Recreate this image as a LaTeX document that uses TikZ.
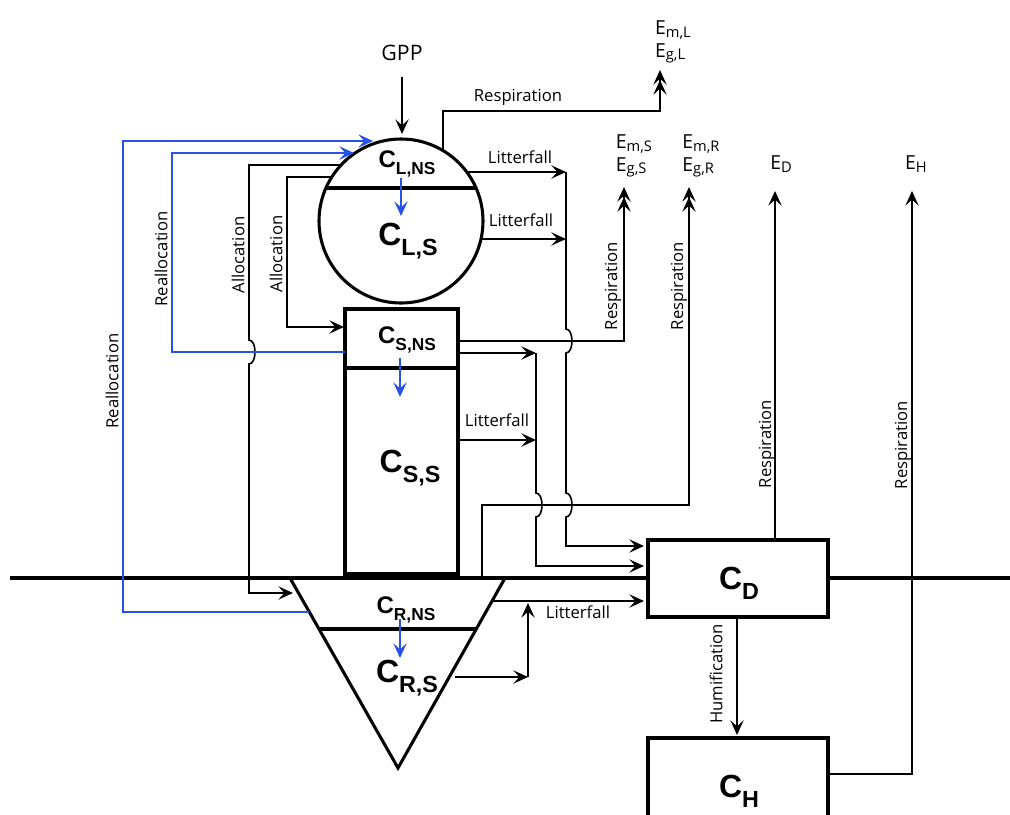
\documentclass[tikz,border=0pt]{standalone}
\usepackage{fontspec}
\setmainfont{Open Sans}
\newfontfamily\poolfont{Liberation Sans}
\usetikzlibrary{arrows.meta, calc}
\definecolor{reallocblue}{RGB}{38,82,232}

\newcommand{\Cbig}[1]{{\poolfont\bfseries\fontsize{24}{26}\selectfont C\raisebox{-0.32em}{\fontsize{17.5}{19}\selectfont #1}}}
\newcommand{\Csmall}[1]{{\poolfont\bfseries\fontsize{18}{20}\selectfont C\raisebox{-0.32em}{\fontsize{13}{14}\selectfont #1}}}
\newcommand{\Eout}[1]{E\raisebox{-0.15em}{\fontsize{11}{12}\selectfont #1}}

\begin{document}
\begin{tikzpicture}[
        x=0.75pt, y=-0.75pt,
        >={Stealth[length=11pt,width=10pt,inset=4.5pt]},
        font=\fontsize{12.5}{14}\selectfont,
        flow/.style={line width=1.2pt},
        thinflow/.style={line width=1pt},
        realloc/.style={line width=1.1pt, draw=reallocblue},
        pool/.style={line width=2.3pt},
        twotip/.style={-{Stealth[length=11pt,width=10pt,inset=4.5pt,sep=-3.5pt]Stealth[length=11pt,width=10pt,inset=4.5pt]}},
        hopover/.style={to path={.. controls ($(\tikztostart)+(8,0)$) and ($(\tikztotarget)+(8,0)$) .. (\tikztotarget)}},
        lbl/.style={inner sep=0pt},
        vlbl/.style={inner sep=0pt, rotate=90},
        elbl/.style={inner sep=0pt, align=left, font=\fontsize{14.5}{17}\selectfont}
    ]
    \useasboundingbox (0,0) rectangle (1010,814);

    % --- Ground ---
    \draw[line width=3.2pt] (10,578) -- (648,578);
    \draw[line width=3.2pt] (828,578) -- (1010,578);

    % --- Pools ---
    \draw[pool] (401,221) circle[radius=82];
    \draw[pool] (326,188) -- (476,188);
    \draw[pool] (345,309) rectangle (458,574);
    \draw[pool] (345,368) -- (458,368);
    \draw[pool] (290,578) -- (505,578) -- (398,768) -- cycle;
    \draw[pool] (319,629) -- (476,629);
    \draw[pool, fill=white] (648,540) rectangle (828,617);
    \draw[pool] (648,816) -- (648,738) -- (828,738) -- (828,816);

    \node[lbl, anchor=base] (clns) at (407,167) {\Csmall{L,NS}};
    \node[lbl, anchor=base] (cls)  at (408,245) {\Cbig{L,S}};
    \node[lbl, anchor=base] (csns) at (407,343) {\Csmall{S,NS}};
    \node[lbl, anchor=base] (css)  at (410,472) {\Cbig{S,S}};
    \node[lbl, anchor=base] (crns) at (406,613) {\Csmall{R,NS}};
    \node[lbl, anchor=base] (crs)  at (407,682) {\Cbig{R,S}};
    \node[lbl, anchor=base] (cd)   at (739,589) {\Cbig{D}};
    \node[lbl, anchor=base] (ch)   at (739,797) {\Cbig{H}};

    % --- Outputs ---
    \node[lbl, font=\fontsize{16}{18}\selectfont] (gpp) at (402,53) {GPP};
    \node[elbl] (eleaf) at (673,42) {\Eout{m,L}\\\Eout{g,L}};
    \node[elbl] (estem) at (634,156) {\Eout{m,S}\\\Eout{g,S}};
    \node[elbl] (eroot) at (701,156) {\Eout{m,R}\\\Eout{g,R}};
    \node[elbl] (edebris) at (781,164) {\Eout{D}};
    \node[elbl] (ehumus) at (916,164) {\Eout{H}};

    \coordinate (gppA) at (402,77);
    \coordinate (gppB) at (402,134);
    \coordinate (eleafT) at (660,70);
    \coordinate (estemT) at (624,187);
    \coordinate (erootT) at (689,187);
    \coordinate (edebrisT) at (775,191);
    \coordinate (ehumusT) at (912,191);

    % --- GPP and internal transfers ---
    \draw[flow, ->] (gppA) -- (gppB);
    \draw[realloc, ->] (401,178) -- (401,216);
    \draw[realloc, ->] (400,358) -- (400,397);
    \draw[realloc, ->] (400,619) -- (400,658);

    % --- Respiration ---
    \draw[flow, twotip] (443,151) -- (443,111) -- (660,111) -- (eleafT);
    \node[lbl] at (518,97) {Respiration};
    \draw[flow, twotip] (458,341) -- (624,341) -- (estemT);
    \node[vlbl] at (613,286) {Respiration};
    \draw[thinflow, twotip] (482,576) -- (482,505) -- (689,505) -- (erootT);
    \node[vlbl] at (679,286) {Respiration};
    \draw[thinflow, ->] (775,540) -- (edebrisT);
    \node[vlbl] at (767,444) {Respiration};
    \draw[thinflow, ->] (828,774) -- (912,774) -- (ehumusT);
    \node[vlbl] at (903,445) {Respiration};

    % --- Litterfall ---
    \draw[flow, ->] (467,172) -- (566,172);
    \node[lbl] at (520,157) {Litterfall};
    \draw[flow, ->] (481,239) -- (566,239);
    \node[lbl] at (521,220) {Litterfall};
    \draw[flow, ->] (566,172) -- (566,329) to[hopover] (566,353) -- (566,493) to[hopover] (566,517) -- (566,546) -- (644,546);
    \draw[flow, ->] (458,353) -- (536,353);
    \draw[flow, ->] (458,440) -- (536,440);
    \node[lbl] at (497,420) {Litterfall};
    \draw[flow, ->] (536,353) -- (536,493) to[hopover] (536,517) -- (536,566) -- (644,566);
    \draw[flow, ->] (492,601) -- (644,601);
    \draw[flow, ->] (455,677) -- (528,677);
    \draw[flow, ->] (528,677) -- (528,603);
    \node[lbl] at (578,612) {Litterfall};

    % --- Humification ---
    \draw[flow, ->] (737,617) -- (737,735);
    \node[vlbl] at (716,674) {Humification};

    % --- Allocation ---
    \draw[flow, ->] (341,165) -- (249,165) -- (249,340) to[hopover] (249,364) -- (249,593) -- (293,593);
    \node[vlbl] at (238,255) {Allocation};
    \draw[flow, ->] (332,177) -- (287,177) -- (287,327) -- (344,327);
    \node[vlbl] at (276,254) {Allocation};

    % --- Reallocation ---
    \draw[realloc, ->] (309,612) -- (123,612) -- (123,141) -- (373,141);
    \node[vlbl] at (112,381) {Reallocation};
    \draw[realloc, ->] (345,352) -- (172,352) -- (172,153) -- (354,153);
    \node[vlbl] at (161,259) {Reallocation};

\end{tikzpicture}
\end{document}
